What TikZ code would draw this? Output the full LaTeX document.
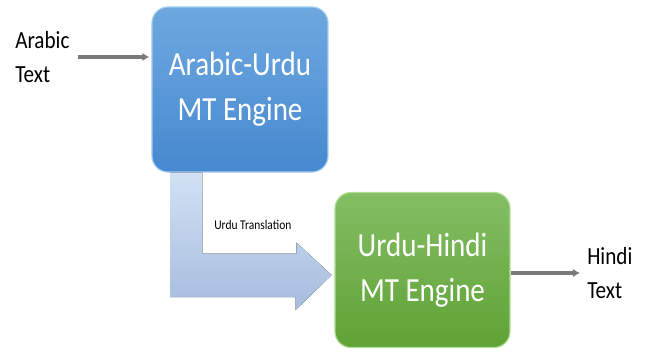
\documentclass[tikz,border=0pt]{standalone}
\usepackage{fontspec}
\setmainfont{Carlito}[FakeStretch=0.86]
\usetikzlibrary{arrows.meta}
\tikzset{>={Latex[length=5pt,width=6pt]}}
\definecolor{bluetop}{HTML}{6EA8E0}
\definecolor{bluebot}{HTML}{4689CF}
\definecolor{blueedge}{HTML}{A6CDF3}
\definecolor{greentop}{HTML}{84BE64}
\definecolor{greenbot}{HTML}{5FA235}
\definecolor{greenedge}{HTML}{B0DF95}
\definecolor{bendtop}{HTML}{D2E1F4}
\definecolor{bendbot}{HTML}{A6BCDE}
\tikzstyle{engine}=[rounded corners=0.4cm,line width=0.8pt,text=white,align=center,
  font=\fontsize{24}{32}\selectfont]
\tikzstyle{gline}=[->,draw=black!52,line width=2.6pt]
\tikzstyle{side}=[inner sep=0,align=left,font=\fontsize{17.5}{24.5}\selectfont]

\begin{document}
\begin{tikzpicture}[x=0.025cm,y=-0.025cm]
  \useasboundingbox (0,0) rectangle (646,358);

  % ENGINES
  \node[engine,draw=blueedge,top color=bluetop,bottom color=bluebot,
    minimum width=4.4cm,minimum height=4.125cm] (ar) at (240,89.5)
    {Arabic-Urdu\\MT Engine};
  \node[engine,draw=greenedge,top color=greentop,bottom color=greenbot,
    minimum width=4.375cm,minimum height=3.875cm] (hi) at (422.5,270)
    {Urdu-Hindi\\MT Engine};

  % INPUT / OUTPUT
  \node[side,anchor=west] (arin) at (15,57) {Arabic\\Text};
  \node[side,anchor=west] (hiout) at (587,273) {Hindi\\Text};
  \draw[gline,shorten <=6pt,shorten >=1.5pt] (arin.east) -- (arin.east -| ar.west);
  \draw[gline,shorten >=5pt] (hi.east |- hiout.west) -- (hiout.west);

  % BENT ARROW
  \coordinate (utop) at ([xshift=19*0.025cm]ar.south west);
  \coordinate (utip) at ([xshift=-2pt]hi.west |- 0,275);
  \fill[top color=bendtop,bottom color=bendbot]
    (utop) -- ++(32,0) -- ++(0,81) -- ++(94,0) -- ++(0,-11) -- (utip)
    -- ++(-36,35) -- ++(0,-13) -| (utop) -- cycle;
  \node[anchor=west,inner sep=0,font=\fontsize{9.5}{11}\selectfont] (ut) at (214,225)
    {Urdu Translation};
\end{tikzpicture}
\end{document}
